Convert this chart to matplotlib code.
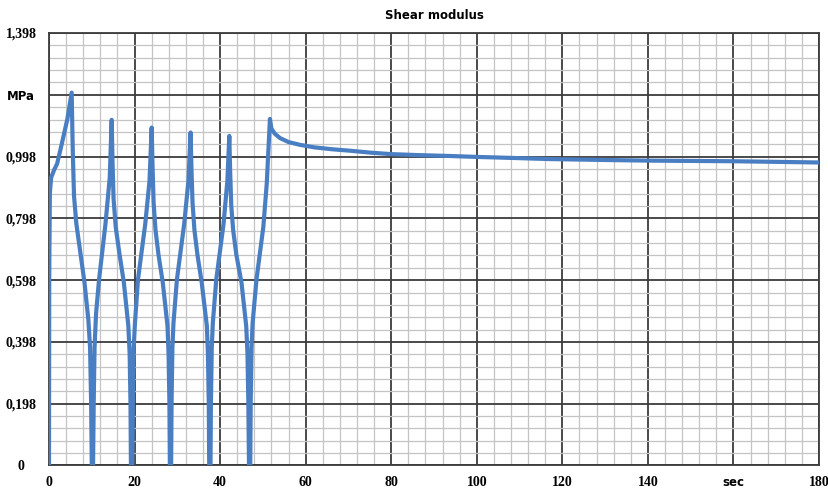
import matplotlib
matplotlib.use("Agg")
import matplotlib.pyplot as plt
import numpy as np
from matplotlib.ticker import FixedLocator

# ---- data ----
time_sec = [
    0.0, 0.05, 0.2, 0.5, 1.2, 1.9, 3.0, 4.3, 5.3,
    5.55, 5.85, 6.4, 7.2, 8.3, 9.2, 9.6, 9.85, 10.0,
    10.3, 10.45, 10.65, 11.0, 11.7, 13.2, 14.2, 14.65,
    14.85, 15.1, 15.6, 16.4, 17.5, 18.55, 18.85, 19.05, 19.15,
    19.45, 19.6, 19.8, 20.1, 20.8, 22.5, 23.5, 24.0,
    24.2, 24.45, 24.9, 25.6, 26.6, 27.7, 27.95, 28.15, 28.25,
    28.55, 28.65, 28.85, 29.1, 29.9, 31.6, 32.6, 33.1,
    33.3, 33.55, 34.0, 34.7, 35.7, 36.9, 37.15, 37.35, 37.45,
    37.75, 37.85, 38.05, 38.3, 39.1, 40.8, 41.7, 42.15,
    42.35, 42.6, 43.05, 43.8, 45.0, 46.1, 46.4, 46.6, 46.75,
    47.05, 47.15, 47.35, 47.6, 48.5, 50.1, 50.9, 51.65,
    52.0, 52.8, 54.0, 56.0, 58.7, 62.0, 66.0, 70.4, 75.0,
    80.0, 86.0, 93.7, 100.0, 110.0, 117.0, 130.0, 140.0,
    150.0, 160.0, 170.0, 180.0,
]
modulus_mpa = [
    0.0, 0.6, 0.88, 0.93, 0.955, 0.975, 1.04, 1.12, 1.205,
    1.02, 0.87, 0.78, 0.7, 0.59, 0.47, 0.38, 0.2, 0.0,
    0.0, 0.2, 0.38, 0.49, 0.6, 0.78, 0.93, 1.117,
    0.98, 0.86, 0.77, 0.69, 0.59, 0.45, 0.36, 0.2, 0.0,
    0.0, 0.2, 0.38, 0.46, 0.6, 0.78, 0.92, 1.092,
    0.97, 0.85, 0.76, 0.68, 0.59, 0.45, 0.36, 0.2, 0.0,
    0.0, 0.2, 0.38, 0.46, 0.6, 0.78, 0.92, 1.076,
    0.96, 0.85, 0.76, 0.68, 0.59, 0.45, 0.36, 0.2, 0.0,
    0.0, 0.2, 0.38, 0.46, 0.6, 0.78, 0.92, 1.065,
    0.95, 0.84, 0.76, 0.68, 0.59, 0.45, 0.36, 0.2, 0.0,
    0.0, 0.2, 0.38, 0.46, 0.6, 0.77, 0.91, 1.12,
    1.088, 1.072, 1.058, 1.045, 1.036, 1.028, 1.022, 1.017, 1.011,
    1.006, 1.003, 1.0, 0.997, 0.993, 0.990, 0.987, 0.985,
    0.984, 0.983, 0.981, 0.979,
]

x_ticks = [0, 20, 40, 60, 80, 100, 120, 140, 160, 180]
x_tick_labels = ["0", "20", "40", "60", "80", "100", "120", "140", "sec", "180"]
y_ticks = [0, 0.198, 0.398, 0.598, 0.798, 0.998, 1.198, 1.398]
y_tick_labels = ["0", "0,198", "0,398", "0,598", "0,798", "0,998", "MPa", "1,398"]
title = "Shear modulus"

# ---- figure ----
W, H = 829, 488
fig = plt.figure(figsize=(W / 100, H / 100), dpi=100)
ax = fig.add_axes([49 / W, (H - 465) / H, (819 - 49) / W, (465 - 33) / H])

major_col = "#3c3c3c"
minor_col = "#c4c4c4"

ax.set_xlim(x_ticks[0], x_ticks[-1])
ax.set_ylim(y_ticks[0], y_ticks[-1])

ax.xaxis.set_major_locator(FixedLocator(x_ticks))
ax.yaxis.set_major_locator(FixedLocator(y_ticks))
x_minor = []
for a, b in zip(x_ticks[:-1], x_ticks[1:]):
    x_minor += list(np.linspace(a, b, 6)[1:-1])
y_minor = []
for a, b in zip(y_ticks[:-1], y_ticks[1:]):
    y_minor += list(np.linspace(a, b, 6)[1:-1])
ax.xaxis.set_minor_locator(FixedLocator(x_minor))
ax.yaxis.set_minor_locator(FixedLocator(y_minor))

ax.grid(which="minor", color=minor_col, linewidth=0.9)
ax.grid(which="major", color=major_col, linewidth=1.3)
ax.set_axisbelow(True)

for s in ax.spines.values():
    s.set_color(major_col)
    s.set_linewidth(1.3)

ax.plot(time_sec, modulus_mpa, color="#4a7ec2", linewidth=3.0,
        solid_joinstyle="round", solid_capstyle="round", zorder=3)

ax.tick_params(which="both", length=0)
ax.tick_params(axis="y", pad=20)
ax.tick_params(axis="x", pad=8)
ax.set_xticklabels(x_tick_labels)
ax.set_yticklabels(y_tick_labels)

for lbl in ax.get_yticklabels():
    lbl.set_horizontalalignment("center")
    if lbl.get_text() == "MPa":
        lbl.set_fontfamily("DejaVu Sans")
        lbl.set_fontweight("bold")
        lbl.set_fontsize(8.5)
    else:
        lbl.set_fontfamily("Liberation Serif")
        lbl.set_fontweight("bold")
        lbl.set_fontsize(10)
for lbl in ax.get_xticklabels():
    if lbl.get_text() == "sec":
        lbl.set_fontfamily("DejaVu Sans")
        lbl.set_fontweight("bold")
        lbl.set_fontsize(8.5)
    else:
        lbl.set_fontfamily("Liberation Serif")
        lbl.set_fontweight("bold")
        lbl.set_fontsize(10)

ax.set_title(title, fontsize=8.5, fontweight="bold", family="DejaVu Sans", pad=10)

fig.savefig("out.png", dpi=100)
